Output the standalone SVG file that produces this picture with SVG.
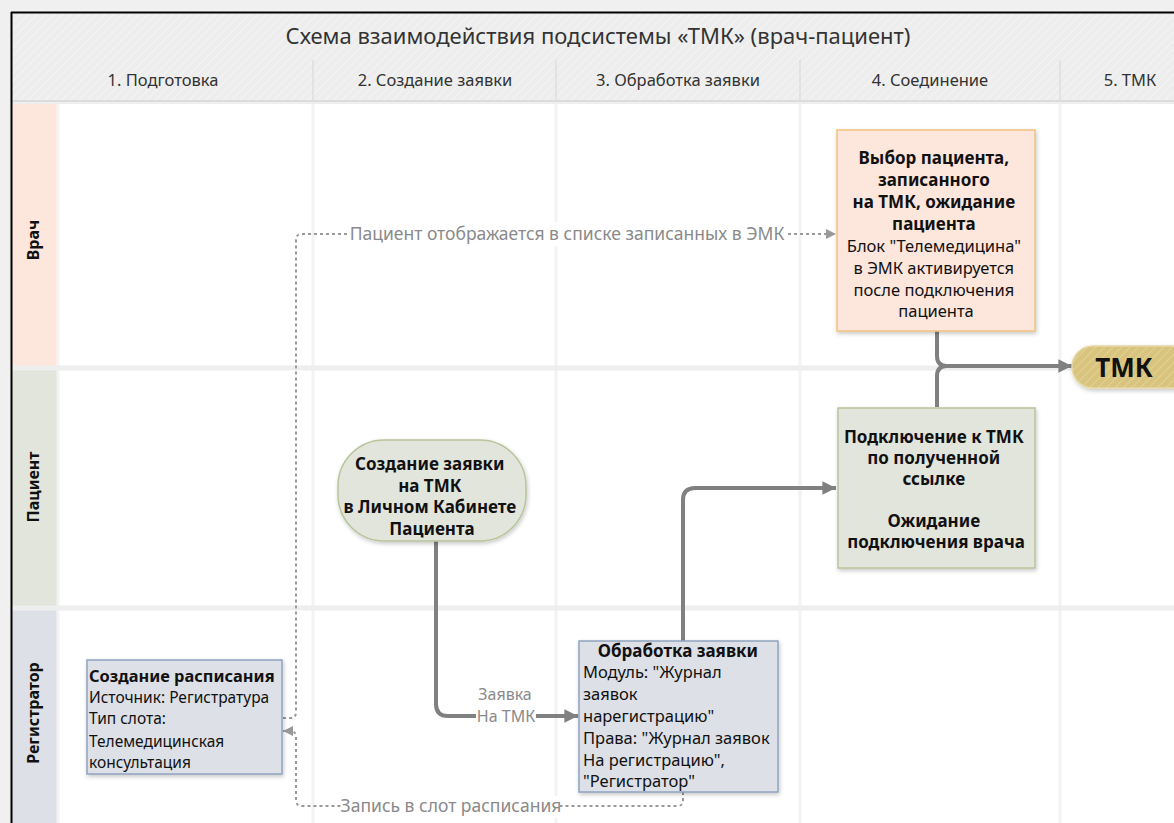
<svg xmlns="http://www.w3.org/2000/svg" width="1174" height="823" viewBox="0 0 1174 823">
<defs>
  <pattern id="hatch" width="6" height="6" patternUnits="userSpaceOnUse" patternTransform="rotate(45)">
    <rect width="6" height="6" fill="#ededed"/>
    <line x1="0" y1="0" x2="0" y2="6" stroke="#f4f4f4" stroke-width="2"/>
  </pattern>
  <pattern id="gold" width="6" height="6" patternUnits="userSpaceOnUse" patternTransform="rotate(45)">
    <rect width="6" height="6" fill="#d8c47e"/>
    <line x1="0" y1="0" x2="0" y2="6" stroke="#e2d293" stroke-width="2"/>
  </pattern>
  <filter id="sh" x="-10%" y="-10%" width="130%" height="130%">
    <feDropShadow dx="1" dy="2" stdDeviation="2" flood-color="#000" flood-opacity="0.22"/>
  </filter>
  <marker id="ah" viewBox="0 0 10 10" refX="10" refY="5" markerWidth="3.4" markerHeight="3.4" markerUnits="strokeWidth" orient="auto">
    <path d="M0,0 L10,5 L0,10 z" fill="#808080"/>
  </marker>
  <marker id="ahd" viewBox="0 0 10 10" refX="10" refY="5" markerWidth="5" markerHeight="5" markerUnits="strokeWidth" orient="auto">
    <path d="M0,0 L10,5 L0,10 z" fill="#999999"/>
  </marker>
</defs>
<style>
  text { font-family: "Noto Sans", "Open Sans", sans-serif; fill: #111; }
  .hdr { font-size: 16.5px; fill: #333; text-anchor: middle; }
  .title { font-size: 22px; fill: #333; text-anchor: middle; }
  .lane { font-size: 16px; font-weight: bold; text-anchor: middle; }
  .b { font-weight: bold; }
  .t15 { font-size: 16.5px; }
  .tb { font-size: 17px; font-weight: bold; }
  .t14 { font-size: 15.5px; }
  .c { text-anchor: middle; }
  .lbl { font-size: 17.5px; fill: #8a8a8a; }
  .lbls { font-size: 16px; fill: #8a8a8a; }
  .flow { fill: none; stroke: #808080; stroke-width: 4; marker-end: url(#ah); }
  .flown { fill: none; stroke: #808080; stroke-width: 4; }
  .dot { fill: none; stroke: #999999; stroke-width: 2; stroke-dasharray: 3 3; }
  .div { stroke: #f3f3f3; stroke-width: 3; }
  .hdiv { stroke: #eeeeee; stroke-width: 5; }
</style>

<!-- background & frame -->
<rect x="0" y="0" width="1174" height="823" fill="#f0f0f0"/>
<rect x="11" y="12" width="1170" height="820" fill="#ffffff"/>

<!-- lanes label column -->
<rect x="11" y="100" width="46" height="268" fill="#fde6dc"/>
<rect x="11" y="368" width="46" height="240" fill="#e1e5dc"/>
<rect x="11" y="608" width="46" height="220" fill="#dde0e6"/>

<!-- content grid -->
<g id="grid">
  <line class="div" x1="313" y1="100" x2="313" y2="823"/>
  <line class="div" x1="556" y1="100" x2="556" y2="823"/>
  <line class="div" x1="800" y1="100" x2="800" y2="823"/>
  <line class="div" x1="1060" y1="100" x2="1060" y2="823"/>
  <line class="div" x1="58" y1="100" x2="58" y2="823"/>
  <line class="hdiv" x1="11" y1="368" x2="1174" y2="368"/>
  <line class="hdiv" x1="11" y1="608" x2="1174" y2="608"/>
</g>

<!-- header -->
<g id="header">
  <rect x="11" y="12" width="1170" height="88" fill="url(#hatch)"/>
  <line x1="11" y1="101" x2="1174" y2="101" stroke="#dcdcdc" stroke-width="2"/>
  <line x1="11" y1="103" x2="1174" y2="103" stroke="#eeeeee" stroke-width="2"/>
  <line x1="313" y1="60" x2="313" y2="100" stroke="#dedede" stroke-width="1.5"/>
  <line x1="556" y1="60" x2="556" y2="100" stroke="#dedede" stroke-width="1.5"/>
  <line x1="800" y1="60" x2="800" y2="100" stroke="#dedede" stroke-width="1.5"/>
  <line x1="1060" y1="60" x2="1060" y2="100" stroke="#dedede" stroke-width="1.5"/>
  <text class="title" x="598" y="44">Схема взаимодействия подсистемы «ТМК» (врач-пациент)</text>
  <text class="hdr" x="163" y="86">1. Подготовка</text>
  <text class="hdr" x="435" y="86">2. Создание заявки</text>
  <text class="hdr" x="678" y="86">3. Обработка заявки</text>
  <text class="hdr" x="930" y="86">4. Соединение</text>
  <text class="hdr" x="1130" y="86">5. ТМК</text>
</g>

<line x1="11.5" y1="12" x2="11.5" y2="823" stroke="#000" stroke-width="2"/>
<line x1="11" y1="12.5" x2="1174" y2="12.5" stroke="#000" stroke-width="2"/>

<!-- lane labels -->
<g id="lanes">
  <text class="lane" transform="translate(39 240) rotate(-90)">Врач</text>
  <text class="lane" transform="translate(39 487) rotate(-90)">Пациент</text>
  <text class="lane" transform="translate(39 713) rotate(-90)">Регистратор</text>
</g>

<!-- connectors -->
<g id="connectors">
  <path class="flow" d="M436 541 V704 Q436 716 448 716 H578"/>
  <path class="flow" d="M683 641 V500 Q683 488 695 488 H836"/>
  <path class="flow" d="M937 331 V356 Q937 366 947 366 H1072"/>
  <path class="flown" d="M937 407 V376 Q937 366 947 366"/>
  <path class="dot" d="M283 718 H290 Q296 718 296 712 V240 Q296 234 302 234 H836" marker-end="url(#ahd)"/>
  <path class="dot" d="M683 792 V800 Q683 806 677 806 H302 Q296 806 296 800 V737 Q296 731 290 731 H283" marker-end="url(#ahd)"/>
  <rect x="348" y="222" width="438" height="24" fill="#ffffff"/>
  <text class="lbl c" x="567" y="240">Пациент отображается в списке записанных в ЭМК</text>
  <rect x="342" y="796" width="218" height="22" fill="#ffffff"/>
  <text class="lbl c" x="451" y="812">Запись в слот расписания</text>
  <rect x="476" y="707" width="60" height="19" fill="#ffffff"/>
  <text class="lbls c" x="505" y="700">Заявка</text>
  <text class="lbls c" x="506" y="722">На ТМК</text>
</g>

<!-- nodes -->
<g id="doctor-select">
  <rect x="837" y="130" width="198" height="201" fill="#fde6dc" stroke="#f2c27e" stroke-width="1.5" filter="url(#sh)"/>
  <text class="t15 c" x="936">
    <tspan class="tb" x="936" y="164">Выбор пациента,</tspan>
    <tspan class="tb" x="936" y="186">записанного</tspan>
    <tspan class="tb" x="936" y="208">на ТМК, ожидание</tspan>
    <tspan class="tb" x="936" y="230">пациента</tspan>
    <tspan x="936" y="252">Блок "Телемедицина"</tspan>
    <tspan x="936" y="274">в ЭМК активируется</tspan>
    <tspan x="936" y="296">после подключения</tspan>
    <tspan x="936" y="317">пациента</tspan>
  </text>
</g>

<g id="tmk">
  <rect x="1072" y="346" width="130" height="42" rx="21" fill="url(#gold)" stroke="#e6d9a6" stroke-width="1.5" filter="url(#sh)"/>
  <text class="b c" x="1124" y="377" style="font-size:26px">ТМК</text>
</g>

<g id="patient-connect">
  <rect x="838" y="408" width="197" height="160" fill="#e2e5dc" stroke="#b8c49a" stroke-width="1.5" filter="url(#sh)"/>
  <text class="tb c">
    <tspan x="936" y="443">Подключение к ТМК</tspan>
    <tspan x="936" y="464">по полученной</tspan>
    <tspan x="936" y="485">ссылке</tspan>
    <tspan x="936" y="527">Ожидание</tspan>
    <tspan x="936" y="548">подключения врача</tspan>
  </text>
</g>

<g id="patient-create">
  <rect x="338" y="440" width="188" height="101" rx="46" fill="#e2e5dc" stroke="#b8c49a" stroke-width="1.5" filter="url(#sh)"/>
  <text class="tb c">
    <tspan x="432" y="470">Создание заявки</tspan>
    <tspan x="432" y="492">на ТМК</tspan>
    <tspan x="432" y="513">в Личном Кабинете</tspan>
    <tspan x="432" y="535">Пациента</tspan>
  </text>
</g>

<g id="processing">
  <rect x="579" y="641" width="199" height="151" fill="#dde0e6" stroke="#8ea3bf" stroke-width="1.5" filter="url(#sh)"/>
  <text class="t15">
    <tspan class="tb" x="680" y="657" text-anchor="middle">Обработка заявки</tspan>
    <tspan x="583" y="678">Модуль: "Журнал</tspan>
    <tspan x="583" y="700">заявок</tspan>
    <tspan x="583" y="722">нарегистрацию"</tspan>
    <tspan x="583" y="744">Права: "Журнал заявок</tspan>
    <tspan x="583" y="766">На регистрацию",</tspan>
    <tspan x="583" y="787">"Регистратор"</tspan>
  </text>
</g>

<g id="schedule">
  <rect x="87" y="660" width="195" height="114" fill="#dde0e6" stroke="#8ea3bf" stroke-width="1.5" filter="url(#sh)"/>
  <text class="t14">
    <tspan x="89" y="682" style="font-size:16.4px;font-weight:bold">Создание расписания</tspan>
    <tspan x="89" y="703">Источник: Регистратура</tspan>
    <tspan x="89" y="724">Тип слота:</tspan>
    <tspan x="89" y="747">Телемедицинская</tspan>
    <tspan x="89" y="768">консультация</tspan>
  </text>
</g>
</svg>
